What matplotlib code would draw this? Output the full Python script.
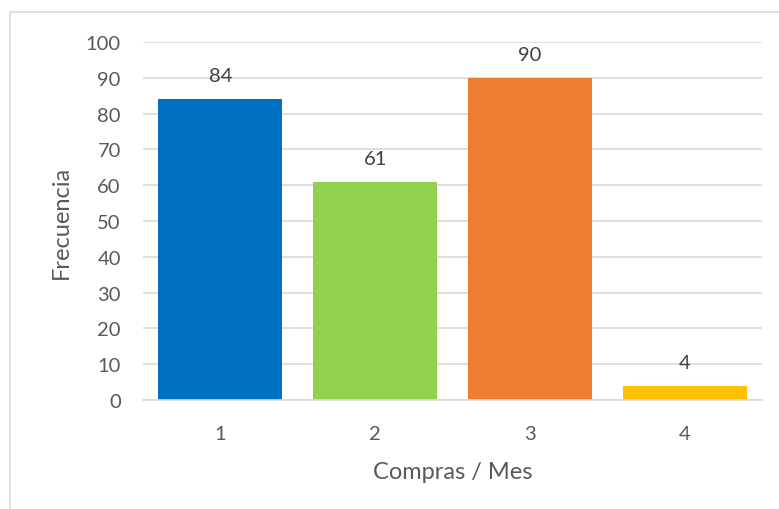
import matplotlib
matplotlib.use("Agg")
import matplotlib.pyplot as plt
from matplotlib.patches import Rectangle

categories = ["1", "2", "3", "4"]
values = [84, 61, 90, 4]
colors = ["#0070C0", "#92D050", "#ED7D31", "#FFC000"]
yticks = [0, 10, 20, 30, 40, 50, 60, 70, 80, 90, 100]

plt.rcParams['font.family'] = ['Lato', 'DejaVu Sans']

fig = plt.figure(figsize=(7.79, 5.10), dpi=100)
fig.patches.append(Rectangle((10/779, -0.1), 2.0, 1 - 13/510 + 0.1, transform=fig.transFigure,
                             fill=False, edgecolor="#d9d9d9", linewidth=1.2, zorder=0))
ax = fig.add_axes([143/779, 1 - 401/510, 619/779, 358/510])

x = range(len(categories))
bars = ax.bar(x, values, width=0.8, color=colors, zorder=2)
for xi, v in zip(x, values):
    ax.annotate(str(v), (xi, v), xytext=(0, 17), textcoords="offset points",
                ha="center", va="center", fontsize=14.5, color="#404040")

ax.set_xlim(-0.5, len(categories) - 0.5)
ax.set_ylim(0, 100)
ax.set_yticks(yticks)
ax.set_xticks(list(x))
ax.set_xticklabels(categories)
ax.yaxis.grid(True, color="#d9d9d9", linewidth=1.2, zorder=0)
ax.set_axisbelow(True)
for s in ["top", "right", "left"]:
    ax.spines[s].set_visible(False)
ax.spines["bottom"].set_color("#d9d9d9")
ax.spines["bottom"].set_linewidth(1.2)
ax.tick_params(axis="both", length=0, labelsize=14.5, colors="#595959")
ax.tick_params(axis="y", pad=16)
ax.tick_params(axis="x", pad=18)
ax.set_ylabel("Frecuencia", fontsize=17, color="#595959", labelpad=10)
ax.set_xlabel("Compras / Mes", fontsize=17, color="#595959", labelpad=14)

fig.savefig("out.png", dpi=100)
